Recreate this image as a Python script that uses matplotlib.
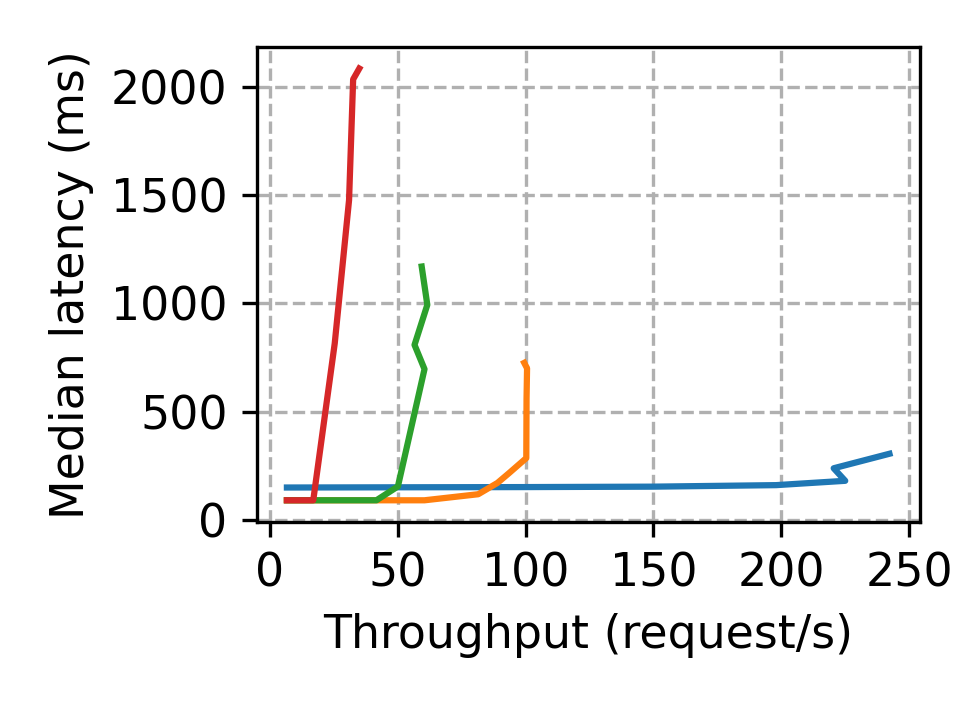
import numpy as np
import matplotlib
matplotlib.use("Agg")
import matplotlib.pyplot as plt

# throughput (request/s) vs median latency (ms), one curve per setup
blue_x = [6.7, 50, 100, 150, 198, 225, 220.5, 242.3]
blue_y = [149, 150, 151, 153, 160, 180, 238, 305]

orange_x = [6.7, 40, 60.5, 81.5, 89, 93.5, 100.3, 100.4, 100.6, 99.5]
orange_y = [90, 90, 90, 118, 170, 215, 285, 560, 700, 725]

green_x = [6.7, 41.7, 50.1, 60.5, 56.6, 61.6, 59.4]
green_y = [90, 90, 154, 696, 808, 993, 1170]

red_x = [6.7, 17, 25.4, 31, 32.6, 35]
red_y = [90, 90, 815, 1477, 2035, 2085]

plt.rcParams['font.size'] = 11
fig, ax = plt.subplots(figsize=(3.23, 2.37), dpi=300)
ax.plot(blue_x, blue_y, color="tab:blue", lw=1.5)
ax.plot(orange_x, orange_y, color="tab:orange", lw=1.5)
ax.plot(green_x, green_y, color="tab:green", lw=1.5)
ax.plot(red_x, red_y, color="tab:red", lw=1.5)

ax.set_xticks([0, 50, 100, 150, 200, 250])
ax.set_yticks([0, 500, 1000, 1500, 2000])
ax.grid(True, ls="--")
ax.set_xlabel("Throughput (request/s)")
ax.set_ylabel("Median latency (ms)")

plt.subplots_adjust(left=0.265, right=0.949, top=0.934, bottom=0.266)
plt.savefig("out.png", dpi=300)
